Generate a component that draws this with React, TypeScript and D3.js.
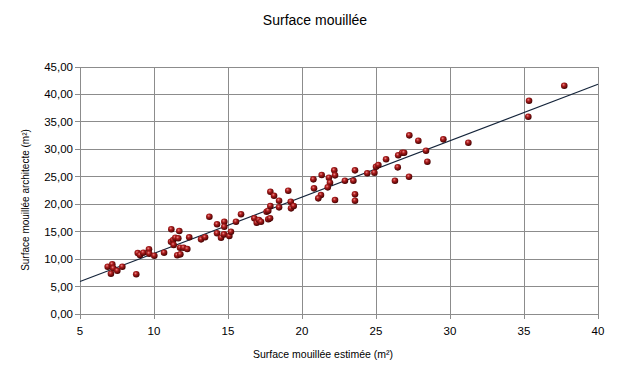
import React, { useEffect, useRef } from 'react';
import * as d3 from 'd3';

// Surface mouillée estimée (m²)
const estimated = [
  6.87, 7.18, 7.25, 7.09, 7.52, 7.86, 8.8, 8.9, 9.05, 9.28, 9.66, 9.68, 10.02, 10.68,
  11.17, 11.71, 11.15, 11.3, 11.44, 11.64, 11.33, 11.76, 12.0, 12.25, 11.57, 11.78, 12.38,
  13.18, 13.45, 13.74, 14.26, 14.26, 14.75, 14.75, 14.53, 14.73, 15.09, 15.2, 15.54, 15.88,
  16.78, 16.94, 17.09, 17.23, 17.61, 17.72, 17.86, 17.72, 17.84, 17.86, 18.11, 18.45, 18.45,
  19.07, 19.24, 19.26, 19.44, 20.77, 20.81, 21.33, 21.28, 21.1, 22.18, 22.23, 21.82, 21.89,
  21.74, 22.23, 22.9, 23.47, 23.58, 23.58, 23.58, 24.41, 24.89, 25.0, 25.16, 25.68, 26.47,
  26.28, 26.5, 26.77, 26.9, 27.23, 27.25, 27.86, 28.38, 28.47, 29.55, 31.24, 35.34, 35.29, 37.72,
];

// Surface mouillée architecte (m²)
const architect = [
  8.62, 9.05, 8.32, 7.34, 7.89, 8.62, 7.23, 11.1, 10.75, 11.17, 11.78, 10.98, 10.62, 11.17,
  15.43, 15.12, 13.17, 13.48, 13.9, 13.79, 12.57, 12.08, 12.08, 11.84, 10.69, 10.87, 13.97,
  13.6, 13.97, 17.72, 16.34, 14.7, 16.81, 15.9, 13.9, 14.5, 14.2, 14.99, 16.81, 18.16,
  17.43, 16.63, 17.12, 16.81, 18.63, 18.82, 19.67, 17.25, 17.43, 22.28, 21.55, 20.64, 19.43,
  22.46, 20.46, 19.25, 19.67, 24.53, 22.89, 25.32, 21.67, 21.07, 26.17, 25.26, 24.83, 23.92,
  23.07, 20.76, 24.28, 24.28, 26.17, 21.8, 20.64, 25.63, 25.74, 26.83, 27.14, 28.18, 26.72,
  24.28, 28.91, 29.38, 29.38, 25.01, 32.55, 31.57, 29.75, 27.74, 31.82, 31.2, 38.85, 35.94, 41.59,
];

const xTicks = [5, 10, 15, 20, 25, 30, 35, 40];
const yTicks = [0, 5, 10, 15, 20, 25, 30, 35, 40, 45];

const W = 617;
const H = 365;

const App: React.FC = () => {
  const svgRef = useRef<SVGSVGElement>(null);

  useEffect(() => {
    if (!svgRef.current) return;
    const svg = d3.select(svgRef.current);
    svg.selectAll('*').remove();

    const margin = { top: 67, right: 19, bottom: 51, left: 80 };
    const width = W - margin.left - margin.right;
    const height = H - margin.top - margin.bottom;
    const font = '"Liberation Sans", Arial, sans-serif';
    const gridColor = '#8c8c8c';

    const x = d3.scaleLinear().domain([5, 40]).range([0, width]);
    const y = d3.scaleLinear().domain([0, 45]).range([height, 0]);

    const defs = svg.append('defs');
    const grad = defs.append('radialGradient')
      .attr('id', 'ball')
      .attr('cx', '40%').attr('cy', '35%').attr('r', '65%');
    grad.append('stop').attr('offset', '0%').attr('stop-color', '#e88a8a');
    grad.append('stop').attr('offset', '35%').attr('stop-color', '#b01e1e');
    grad.append('stop').attr('offset', '100%').attr('stop-color', '#400000');

    const g = svg.append('g').attr('transform', `translate(${margin.left},${margin.top})`);

    // Grid
    g.append('g')
      .selectAll('line')
      .data(yTicks)
      .enter()
      .append('line')
      .attr('x1', -5).attr('x2', width)
      .attr('y1', d => y(d)).attr('y2', d => y(d))
      .attr('stroke', gridColor)
      .attr('shape-rendering', 'crispEdges');

    g.append('g')
      .selectAll('line')
      .data(xTicks)
      .enter()
      .append('line')
      .attr('x1', d => x(d)).attr('x2', d => x(d))
      .attr('y1', 0).attr('y2', height + 5)
      .attr('stroke', gridColor)
      .attr('shape-rendering', 'crispEdges');

    // Tick labels
    const fmt = d3.format('.2f');
    g.append('g')
      .selectAll('text')
      .data(yTicks)
      .enter()
      .append('text')
      .attr('x', -7)
      .attr('y', d => y(d))
      .attr('dy', '0.35em')
      .attr('text-anchor', 'end')
      .style('font-family', font)
      .style('font-size', '11.5px')
      .attr('fill', '#000')
      .text(d => fmt(d).replace('.', ','));

    g.append('g')
      .selectAll('text')
      .data(xTicks)
      .enter()
      .append('text')
      .attr('x', d => x(d))
      .attr('y', height + 21)
      .attr('text-anchor', 'middle')
      .style('font-family', font)
      .style('font-size', '11.5px')
      .attr('fill', '#000')
      .text(d => String(d));

    // Trend line (least squares)
    const n = estimated.length;
    const mx = d3.mean(estimated) || 0;
    const my = d3.mean(architect) || 0;
    let sxy = 0;
    let sxx = 0;
    for (let i = 0; i < n; i++) {
      sxy += (estimated[i] - mx) * (architect[i] - my);
      sxx += (estimated[i] - mx) ** 2;
    }
    const slope = sxy / sxx;
    const intercept = my - slope * mx;
    const line = d3.line<number>().x(d => x(d)).y(d => y(intercept + slope * d));
    g.append('path')
      .datum(x.domain())
      .attr('d', line)
      .attr('fill', 'none')
      .attr('stroke', '#14243a')
      .attr('stroke-width', 1.1);

    // Points
    g.append('g')
      .selectAll('circle')
      .data(estimated.map((v, i) => [v, architect[i]]))
      .enter()
      .append('circle')
      .attr('cx', d => x(d[0]))
      .attr('cy', d => y(d[1]))
      .attr('r', 3.3)
      .attr('fill', 'url(#ball)');

    // Titles
    svg.append('text')
      .attr('x', 315)
      .attr('y', 25)
      .attr('text-anchor', 'middle')
      .style('font-family', font)
      .style('font-size', '14px')
      .text('Surface mouillée');

    svg.append('text')
      .attr('x', 323)
      .attr('y', 358)
      .attr('text-anchor', 'middle')
      .style('font-family', font)
      .style('font-size', '10.5px')
      .text('Surface mouillée estimée (m²)');

    svg.append('text')
      .attr('transform', 'translate(29,200) rotate(-90)')
      .attr('text-anchor', 'middle')
      .style('font-family', font)
      .style('font-size', '10px')
      .text('Surface mouillée architecte (m²)');
  }, []);

  return (
    <div style={{ position: 'fixed', top: 0, left: 0, background: '#fff' }}>
      <svg ref={svgRef} width={W} height={H} style={{ display: 'block' }} />
    </div>
  );
};

export default App;
